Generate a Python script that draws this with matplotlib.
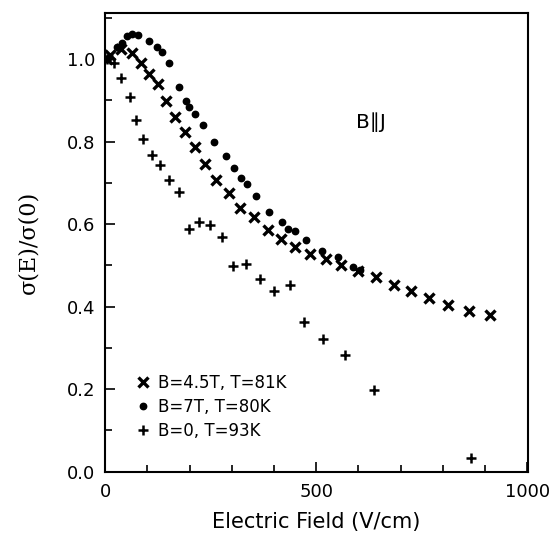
import matplotlib
matplotlib.use("Agg")
import matplotlib.pyplot as plt
from matplotlib.ticker import MultipleLocator, FormatStrFormatter

# B=4.5T, T=81K  (x markers)
e_45 = [5, 12, 37, 63, 84, 104, 126, 145, 166, 190, 213, 237, 263, 293, 320, 353,
        385, 417, 449, 486, 523, 558, 600, 642, 684, 725, 768, 813, 863, 912]
s_45 = [1.00, 1.010, 1.024, 1.014, 0.991, 0.963, 0.939, 0.899, 0.860, 0.823, 0.788,
        0.746, 0.707, 0.675, 0.640, 0.617, 0.586, 0.563, 0.545, 0.528, 0.515, 0.501,
        0.487, 0.472, 0.452, 0.439, 0.420, 0.404, 0.390, 0.380]

# B=7T, T=80K  (dots)
e_7 = [5, 28, 40, 51, 63, 79, 103, 124, 136, 152, 174, 191, 198, 213, 233, 257, 286,
       306, 322, 336, 358, 389, 418, 433, 450, 476, 513, 551, 588, 604]
s_7 = [1.00, 1.030, 1.038, 1.055, 1.061, 1.059, 1.045, 1.029, 1.018, 0.991, 0.933,
       0.899, 0.885, 0.866, 0.840, 0.800, 0.764, 0.737, 0.711, 0.697, 0.667, 0.630,
       0.606, 0.588, 0.583, 0.561, 0.536, 0.520, 0.496, 0.489]

# B=0, T=93K  (plus markers)
e_0 = [5, 21, 37, 58, 73, 91, 111, 130, 152, 175, 198, 222, 249, 276, 304, 333, 367,
       399, 437, 472, 517, 569, 637, 867]
s_0 = [1.00, 0.991, 0.953, 0.907, 0.853, 0.807, 0.768, 0.744, 0.707, 0.679, 0.588,
       0.604, 0.598, 0.569, 0.499, 0.504, 0.466, 0.439, 0.452, 0.362, 0.321, 0.284,
       0.198, 0.032]

labels = ["B=4.5T, T=81K", "B=7T, T=80K", "B=0, T=93K"]

fig = plt.figure(figsize=(5.53, 5.37), dpi=100)
ax = fig.add_axes([0.190, 0.1216, 0.765, 0.8544])

ax.plot(e_45, s_45, linestyle="none", marker="x", ms=6.5, mew=2.4, color="black",
        label=labels[0])
ax.plot(e_7, s_7, linestyle="none", marker="o", ms=4.6, color="black",
        label=labels[1])
ax.plot(e_0, s_0, linestyle="none", marker="+", ms=6.5, mew=1.8, color="black",
        label=labels[2])

ax.set_xlim(0, 1002)
ax.set_ylim(0, 1.112)
ax.xaxis.set_major_locator(MultipleLocator(500))
ax.xaxis.set_minor_locator(MultipleLocator(100))
ax.yaxis.set_major_locator(MultipleLocator(0.2))
ax.yaxis.set_minor_locator(MultipleLocator(0.1))
ax.yaxis.set_major_formatter(FormatStrFormatter("%.1f"))

ax.tick_params(which="both", direction="in", top=False, right=False,
               labelsize=13, width=1.2)
ax.tick_params(which="major", length=7)
ax.tick_params(which="minor", length=5)
ax.tick_params(axis="x", pad=8)
ax.tick_params(axis="y", pad=7)
for sp in ax.spines.values():
    sp.set_linewidth(1.5)

ax.set_xlabel("Electric Field (V/cm)", fontsize=15, family="DejaVu Sans",
              labelpad=8)
ax.set_ylabel("σ(E)/σ(0)", fontsize=16, family="DejaVu Serif", labelpad=20)

ax.text(630, 0.848, "B∥J", fontsize=14.5, family="DejaVu Sans", ha="center",
        va="center")

leg = ax.legend(loc="lower left", bbox_to_anchor=(0.073, 0.07), frameon=False,
                prop={"family": "DejaVu Sans", "size": 12},
                handlelength=0.9, handletextpad=0.45, labelspacing=0.36,
                borderaxespad=0, borderpad=0)

fig.savefig("out.png", dpi=100)
